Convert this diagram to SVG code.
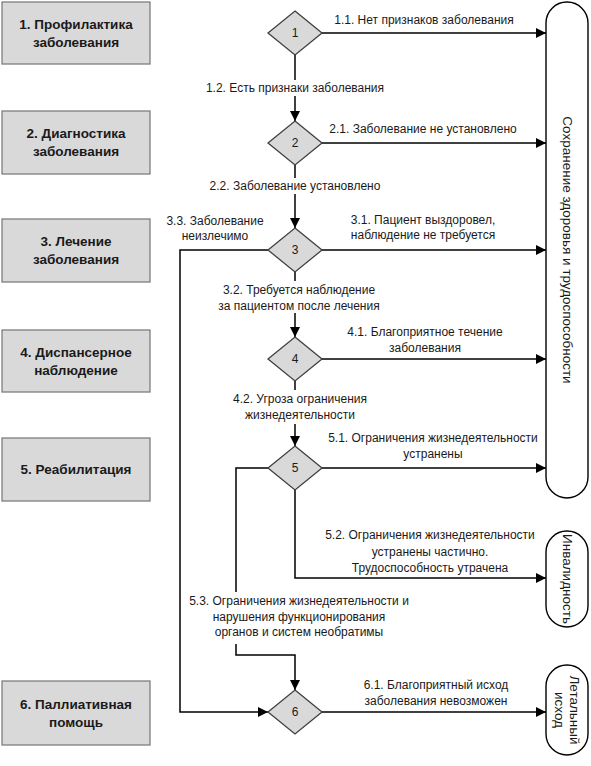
<svg xmlns="http://www.w3.org/2000/svg" width="591" height="766" viewBox="0 0 591 766">
<style>
.stage{fill:#d9d9d9;stroke:#7f7f7f;stroke-width:1.3}
.stage-t{font-family:"Liberation Sans",Arial,sans-serif;font-size:13.5px;font-weight:bold;fill:#1a1a1a;text-anchor:middle}
.dec{fill:#d9d9d9;stroke:#404040;stroke-width:1.3}
.dec-t{font-family:"Liberation Sans",Arial,sans-serif;font-size:12px;fill:#1a1a1a;text-anchor:middle}
.term{fill:#fff;stroke:#000;stroke-width:1.4}
.term-t{font-family:"Liberation Sans",Arial,sans-serif;font-size:13.5px;fill:#1a1a1a;text-anchor:middle}
.con{fill:none;stroke:#000;stroke-width:1.5}
.lbl{font-family:"Liberation Sans",Arial,sans-serif;font-size:12px;fill:#1a1a1a;text-anchor:middle}
.bg{fill:#fff}
</style>
<defs>
<marker id="arr" markerWidth="10" markerHeight="10" refX="10" refY="5" orient="auto" markerUnits="userSpaceOnUse">
<path d="M0,0 L10,5 L0,10 z" fill="#000"/>
</marker>
</defs>

<g id="stage1"><rect class="stage" x="2" y="2" width="148" height="62"/><text class="stage-t" x="76" y="29">1. Профилактика</text><text class="stage-t" x="76" y="47">заболевания</text></g>
<g id="stage2"><rect class="stage" x="2" y="111" width="148" height="63"/><text class="stage-t" x="76" y="138">2. Диагностика</text><text class="stage-t" x="76" y="156">заболевания</text></g>
<g id="stage3"><rect class="stage" x="2" y="219" width="148" height="63"/><text class="stage-t" x="76" y="246">3. Лечение</text><text class="stage-t" x="76" y="264">заболевания</text></g>
<g id="stage4"><rect class="stage" x="2" y="330" width="148" height="62"/><text class="stage-t" x="76" y="357">4. Диспансерное</text><text class="stage-t" x="76" y="375">наблюдение</text></g>
<g id="stage5"><rect class="stage" x="2" y="438" width="148" height="63"/><text class="stage-t" x="76" y="474">5. Реабилитация</text></g>
<g id="stage6"><rect class="stage" x="2" y="681" width="148" height="64"/><text class="stage-t" x="76" y="709">6. Паллиативная</text><text class="stage-t" x="76" y="727">помощь</text></g>

<g id="connectors">
<path class="con" d="M322,33 H546" marker-end="url(#arr)"/>
<path class="con" d="M295,55 V121" marker-end="url(#arr)"/>
<path class="con" d="M322,143 H546" marker-end="url(#arr)"/>
<path class="con" d="M295,165 V228" marker-end="url(#arr)"/>
<path class="con" d="M322,250 H546" marker-end="url(#arr)"/>
<path class="con" d="M268,250 H180 V712 H268" marker-end="url(#arr)"/>
<path class="con" d="M295,272 V337" marker-end="url(#arr)"/>
<path class="con" d="M322,359 H546" marker-end="url(#arr)"/>
<path class="con" d="M295,381 V446" marker-end="url(#arr)"/>
<path class="con" d="M322,468 H546" marker-end="url(#arr)"/>
<path class="con" d="M295,490 V578 H546" marker-end="url(#arr)"/>
<path class="con" d="M268,468 H236 V655 H295 V690" marker-end="url(#arr)"/>
<path class="con" d="M322,712 H546" marker-end="url(#arr)"/>
</g>

<g id="labels">
<text class="lbl" x="424" y="24">1.1. Нет признаков заболевания</text>
<rect class="bg" x="200" y="80" width="192" height="16"/>
<text class="lbl" x="295" y="92">1.2. Есть признаки заболевания</text>
<text class="lbl" x="423" y="133">2.1. Заболевание не установлено</text>
<rect class="bg" x="206" y="178" width="178" height="16"/>
<text class="lbl" x="295" y="190">2.2. Заболевание установлено</text>
<text class="lbl" x="423" y="224">3.1. Пациент выздоровел,</text>
<text class="lbl" x="423" y="239">наблюдение не требуется</text>
<text class="lbl" x="215" y="225">3.3. Заболевание</text>
<text class="lbl" x="215" y="240">неизлечимо</text>
<rect class="bg" x="214" y="281" width="172" height="32"/>
<text class="lbl" x="299" y="294">3.2. Требуется наблюдение</text>
<text class="lbl" x="299" y="310">за пациентом после лечения</text>
<text class="lbl" x="425" y="336">4.1. Благоприятное течение</text>
<text class="lbl" x="425" y="352">заболевания</text>
<rect class="bg" x="228" y="390" width="144" height="34"/>
<text class="lbl" x="300" y="403">4.2. Угроза ограничения</text>
<text class="lbl" x="300" y="419">жизнедеятельности</text>
<text class="lbl" x="433" y="442">5.1. Ограничения жизнедеятельности</text>
<text class="lbl" x="433" y="458">устранены</text>
<text class="lbl" x="430" y="539">5.2. Ограничения жизнедеятельности</text>
<text class="lbl" x="430" y="556">устранены частично.</text>
<text class="lbl" x="430" y="572">Трудоспособность утрачена</text>
<rect class="bg" x="184" y="592" width="232" height="52"/>
<text class="lbl" x="299" y="605">5.3. Ограничения жизнедеятельности и</text>
<text class="lbl" x="299" y="621">нарушения функционирования</text>
<text class="lbl" x="299" y="636">органов и систем необратимы</text>
<text class="lbl" x="436" y="689">6.1. Благоприятный исход</text>
<text class="lbl" x="436" y="705">заболевания невозможен</text>
</g>

<g id="d1"><polygon class="dec" points="295,11 322,33 295,55 268,33"/><text class="dec-t" x="295" y="37">1</text></g>
<g id="d2"><polygon class="dec" points="295,121 322,143 295,165 268,143"/><text class="dec-t" x="295" y="147">2</text></g>
<g id="d3"><polygon class="dec" points="295,228 322,250 295,272 268,250"/><text class="dec-t" x="295" y="254">3</text></g>
<g id="d4"><polygon class="dec" points="295,337 322,359 295,381 268,359"/><text class="dec-t" x="295" y="363">4</text></g>
<g id="d5"><polygon class="dec" points="295,446 322,468 295,490 268,468"/><text class="dec-t" x="295" y="472">5</text></g>
<g id="d6"><polygon class="dec" points="295,690 322,712 295,734 268,712"/><text class="dec-t" x="295" y="716">6</text></g>

<g id="health"><rect class="term" x="546" y="2" width="42" height="496" rx="21" ry="21"/><text class="term-t" transform="translate(567,250) rotate(90)" y="4.5">Сохранение здоровья и трудоспособности</text></g>
<g id="disability"><rect class="term" x="546" y="531" width="42" height="96" rx="21" ry="21"/><text class="term-t" transform="translate(567,579) rotate(90)" y="4.5">Инвалидность</text></g>
<g id="death"><rect class="term" x="546" y="665" width="42" height="90" rx="21" ry="21"/><text class="term-t" transform="translate(567,710) rotate(90)"><tspan x="0" y="-3">Летальный</tspan><tspan x="0" y="12">исход</tspan></text></g>
</svg>
